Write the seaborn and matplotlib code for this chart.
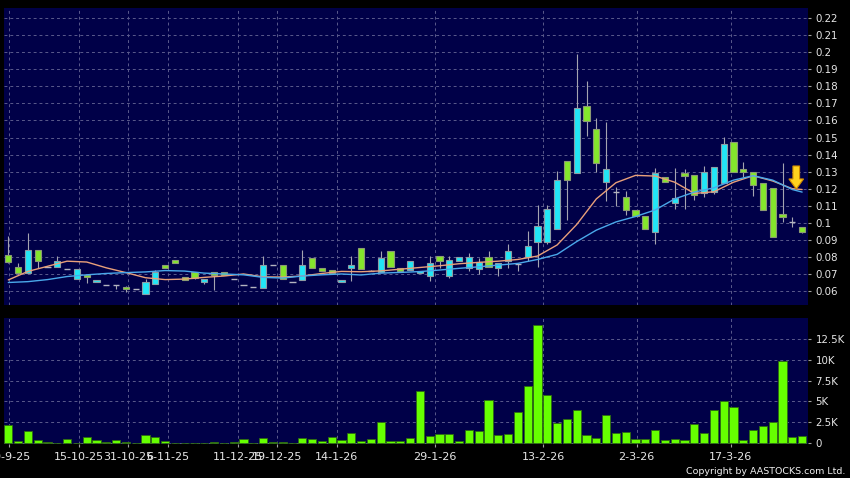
import numpy as np
import matplotlib
matplotlib.use('Agg')
import matplotlib.pyplot as plt
from matplotlib.patches import FancyArrow
import seaborn as sns

# ---------------- data ---------------- #
opens = [0.0811, 0.0739, 0.0707, 0.0840, 0.0740, 0.0739, 0.0731, 0.0668, 0.0694, 0.0651,
         0.0633, 0.0633, 0.0623, 0.0611, 0.0580, 0.0639, 0.0750, 0.0781, 0.0680, 0.0709,
         0.0651, 0.0709, 0.0709, 0.0668, 0.0633, 0.0621, 0.0619, 0.0750, 0.0750, 0.0651,
         0.0664, 0.0791, 0.0733, 0.0721, 0.0651, 0.0736, 0.0850, 0.0717, 0.0713, 0.0832,
         0.0734, 0.0723, 0.0704, 0.0690, 0.0803, 0.0688, 0.0777, 0.0733, 0.0731, 0.0801,
         0.0733, 0.0777, 0.0758, 0.0801, 0.0889, 0.0889, 0.0961, 0.1362, 0.1289, 0.1684,
         0.1549, 0.1240, 0.1180, 0.1149, 0.1073, 0.1041, 0.0947, 0.1270, 0.1117, 0.1293,
         0.1278, 0.1172, 0.1182, 0.1231, 0.1471, 0.1313, 0.1299, 0.1231, 0.1205, 0.1049,
         0.1006, 0.0973]
closes = [0.0772, 0.0704, 0.0840, 0.0776, 0.0740, 0.0776, 0.0731, 0.0731, 0.0680, 0.0664,
          0.0633, 0.0633, 0.0610, 0.0611, 0.0651, 0.0713, 0.0736, 0.0762, 0.0662, 0.0678,
          0.0668, 0.0692, 0.0692, 0.0668, 0.0633, 0.0621, 0.0750, 0.0750, 0.0668, 0.0651,
          0.0750, 0.0733, 0.0719, 0.0704, 0.0664, 0.0750, 0.0731, 0.0717, 0.0791, 0.0739,
          0.0719, 0.0776, 0.0719, 0.0762, 0.0777, 0.0781, 0.0801, 0.0801, 0.0772, 0.0739,
          0.0762, 0.0834, 0.0758, 0.0862, 0.0981, 0.1079, 0.1250, 0.1250, 0.1671, 0.1598,
          0.1348, 0.1313, 0.1180, 0.1075, 0.1041, 0.0961, 0.1289, 0.1240, 0.1143, 0.1276,
          0.1162, 0.1299, 0.1328, 0.1460, 0.1299, 0.1299, 0.1219, 0.1075, 0.0918, 0.1032,
          0.1006, 0.0947]
highs = [0.0922, 0.0766, 0.0942, 0.0840, 0.0740, 0.0807, 0.0731, 0.0731, 0.0694, 0.0664,
         0.0633, 0.0633, 0.0627, 0.0611, 0.0668, 0.0723, 0.0750, 0.0781, 0.0680, 0.0709,
         0.0668, 0.0709, 0.0709, 0.0673, 0.0633, 0.0621, 0.0805, 0.0750, 0.0750, 0.0651,
         0.0840, 0.0791, 0.0733, 0.0721, 0.0664, 0.0805, 0.0850, 0.0722, 0.0834, 0.0832,
         0.0734, 0.0776, 0.0719, 0.0805, 0.0803, 0.0805, 0.0801, 0.0821, 0.0791, 0.0836,
         0.0762, 0.0873, 0.0758, 0.0951, 0.1104, 0.1104, 0.1303, 0.1362, 0.1989, 0.1831,
         0.1612, 0.1592, 0.1211, 0.1185, 0.1073, 0.1041, 0.1319, 0.1270, 0.1319, 0.1313,
         0.1278, 0.1332, 0.1328, 0.1501, 0.1471, 0.1358, 0.1299, 0.1231, 0.1205, 0.1349,
         0.1032, 0.0973]
lows = [0.0764, 0.0700, 0.0703, 0.0733, 0.0740, 0.0739, 0.0727, 0.0668, 0.0649, 0.0651,
        0.0633, 0.0610, 0.0596, 0.0611, 0.0580, 0.0639, 0.0736, 0.0762, 0.0662, 0.0672,
        0.0639, 0.0606, 0.0692, 0.0668, 0.0633, 0.0621, 0.0619, 0.0750, 0.0668, 0.0651,
        0.0664, 0.0733, 0.0719, 0.0697, 0.0651, 0.0660, 0.0731, 0.0717, 0.0713, 0.0739,
        0.0719, 0.0723, 0.0704, 0.0660, 0.0733, 0.0676, 0.0777, 0.0719, 0.0700, 0.0739,
        0.0688, 0.0733, 0.0717, 0.0776, 0.0742, 0.0875, 0.0961, 0.1016, 0.1289, 0.1508,
        0.1299, 0.1129, 0.1100, 0.1048, 0.1041, 0.0961, 0.0875, 0.1240, 0.1079, 0.1079,
        0.1133, 0.1149, 0.1170, 0.1231, 0.1299, 0.1270, 0.1157, 0.1075, 0.0918, 0.1006,
        0.0973, 0.0941]
volume = [2200, 190, 1400, 310, 120, 30, 480, 40, 680, 400,
          160, 360, 160, 30, 910, 760, 240, 20, 60, 20,
          40, 100, 10, 150, 480, 10, 600, 100, 100, 10,
          640, 440, 190, 760, 400, 1240, 240, 480, 2520, 280,
          240, 560, 6200, 880, 1080, 1120, 280, 1560, 1480, 5120,
          910, 1080, 3720, 6850, 14220, 5720, 2400, 2920, 4000, 1000,
          640, 3360, 1200, 1320, 480, 480, 1560, 400, 480, 400,
          2240, 1240, 4000, 5000, 4330, 400, 1520, 2080, 2560, 9810,
          680, 790]

# moving averages, read every second bar
ma_x = list(range(0, 81, 2)) + [81]
ma_short = [0.0665, 0.0715, 0.0745, 0.0775, 0.0770, 0.0736, 0.0708, 0.0678, 0.0667, 0.0670,
            0.0680, 0.0688, 0.0700, 0.0683, 0.0682, 0.0688, 0.0703, 0.0715, 0.0713, 0.0718,
            0.0728, 0.0738, 0.0748, 0.0760, 0.0768, 0.0775, 0.0785, 0.0805, 0.0870, 0.0990,
            0.1140, 0.1235, 0.1278, 0.1274, 0.1238, 0.1172, 0.1182, 0.1238, 0.1276, 0.1245,
            0.1200, 0.1195]
ma_long = [0.0650, 0.0655, 0.0667, 0.0685, 0.0695, 0.0703, 0.0708, 0.0712, 0.0720, 0.0717,
           0.0705, 0.0700, 0.0695, 0.0680, 0.0676, 0.0688, 0.0695, 0.0700, 0.0694, 0.0705,
           0.0709, 0.0714, 0.0723, 0.0733, 0.0742, 0.0752, 0.0762, 0.0785, 0.0815, 0.0890,
           0.0957, 0.1005, 0.1037, 0.1075, 0.1140, 0.1180, 0.1205, 0.1250, 0.1276, 0.1250,
           0.1195, 0.1180]

date_pos = [0.1, 7.2, 12.2, 16.3, 23.4, 27.4, 33.5, 43.5, 54.6, 64.1, 73.7]
date_labels = ['30-9-25', '15-10-25', '31-10-25', '6-11-25', '11-12-25', '19-12-25',
               '14-1-26', '29-1-26', '13-2-26', '2-3-26', '17-3-26']
price_ticks = [0.06, 0.07, 0.08, 0.09, 0.10, 0.11, 0.12, 0.13, 0.14, 0.15, 0.16,
               0.17, 0.18, 0.19, 0.20, 0.21, 0.22]
vol_ticks = [0, 2500, 5000, 7500, 10000, 12500]
vol_labels = ['0', '2.5K', '5K', '7.5K', '10K', '12.5K']

# ---------------- style ---------------- #
navy = '#000048'
sns.set_theme(style='dark', rc={
    'figure.facecolor': 'black',
    'axes.facecolor': navy,
    'axes.grid': True,
    'grid.color': '#5a5a8c',
    'grid.linestyle': (0, (3, 3)),
    'grid.linewidth': 0.7,
})

fig = plt.figure(figsize=(8.5, 4.78), dpi=100)
ax = fig.add_axes([0.0047, 0.3619, 0.9459, 0.6213])
axv = fig.add_axes([0.0047, 0.0711, 0.9459, 0.2636])

idx = np.arange(len(opens))
o = np.array(opens)
c = np.array(closes)
up = c > o
dn = c < o
flat = c == o
bw = 0.62

# ---------------- candles ---------------- #
ax.vlines(idx, lows, highs, color='#a4a4b0', lw=0.8, zorder=2)
ax.bar(idx[up], (c - o)[up], bottom=o[up], width=bw, color='#22e6f6',
       edgecolor='#8c9ca4', linewidth=0.8, zorder=3)
ax.bar(idx[dn], (o - c)[dn], bottom=c[dn], width=bw, color='#84e62c',
       edgecolor='#8c9a74', linewidth=0.8, zorder=3)
ax.hlines(c[flat], idx[flat] - bw / 2, idx[flat] + bw / 2, color='#b4b4c0', lw=1.0, zorder=3)

sns.lineplot(x=ma_x, y=ma_short, ax=ax, color='#e9a07a', lw=1.0, zorder=4)
sns.lineplot(x=ma_x, y=ma_long, ax=ax, color='#4aa8ea', lw=1.0, zorder=4)

ax.add_patch(FancyArrow(80.4, 0.1333, 0, -0.0135, width=0.68, head_width=1.5,
                        head_length=0.0059, length_includes_head=True,
                        fc='#ffd21e', ec='#d08a00', lw=0.8, zorder=6))

ax.set_xlim(-0.44, 81.6)
ax.set_ylim(0.0518, 0.2259)
ax.yaxis.tick_right()
ax.set_yticks(price_ticks)
ax.set_yticklabels([f'{v:g}' for v in price_ticks])
ax.set_xticks(date_pos)
ax.set_xticklabels([])
ax.tick_params(axis='y', right=True, left=False, length=2.5, width=0.8, pad=3,
               color='#a0a0a0', labelcolor='#e6e6e6', labelsize=7.4)
ax.tick_params(axis='x', bottom=False, length=0)
ax.set_xlabel('')
ax.set_ylabel('')

# ---------------- volume ---------------- #
axv.bar(idx, volume, width=0.85, color='#66ff00', edgecolor='#2e6a12', linewidth=0.6, zorder=3)
axv.set_xlim(-0.44, 81.6)
axv.set_ylim(-120, 15025)
axv.yaxis.tick_right()
axv.set_yticks(vol_ticks)
axv.set_yticklabels(vol_labels)
axv.set_xticks(date_pos)
axv.set_xticklabels(date_labels)
axv.tick_params(axis='y', right=True, left=False, length=2.5, width=0.8, pad=3,
                color='#a0a0a0', labelcolor='#e6e6e6', labelsize=7.4)
axv.tick_params(axis='x', bottom=True, length=2.5, width=0.8, pad=3,
                color='#a0a0a0', labelcolor='#e6e6e6', labelsize=8)

for a in (ax, axv):
    for s in a.spines.values():
        s.set_visible(False)

fig.text(0.994, 0.0146, 'Copyright by AASTOCKS.com Ltd.', ha='right', va='center',
         color='#f0f0f0', fontsize=6.8)

fig.savefig('out.png', dpi=100, facecolor='black')
